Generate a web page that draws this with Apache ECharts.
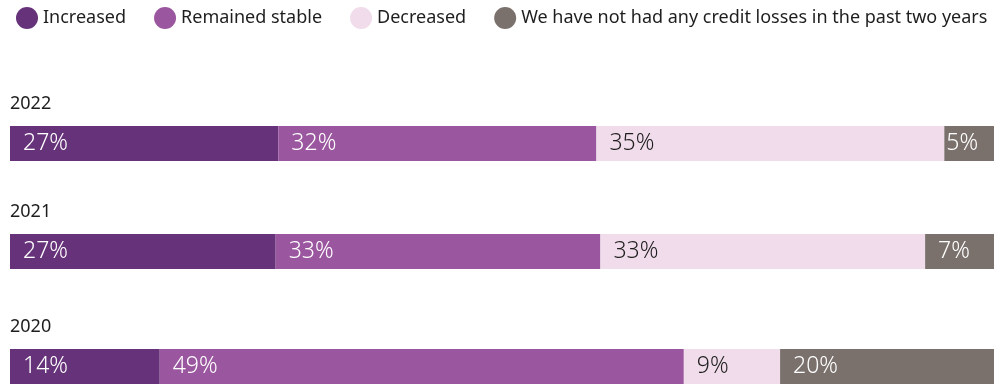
<!DOCTYPE html>
<html>
<head>
<meta charset="utf-8">
<script src="https://cdn.jsdelivr.net/npm/echarts@6/dist/echarts.min.js"></script>
<style>
  html, body { margin: 0; padding: 0; background: #fff; }
  #chart { width: 1004px; height: 385px; }
</style>
</head>
<body>
<div id="chart"></div>
<script>
// Survey answers per year (percent of respondents)
const years = ['2022', '2021', '2020'];
const seriesNames = ['Increased', 'Remained stable', 'Decreased', 'We have not had any credit losses in the past two years'];
const increased = [27, 27, 14];
const remainedStable = [32, 33, 49];
const decreased = [35, 33, 9];
const noLosses = [5, 7, 20];

const colors = ['#66337a', '#9a569e', '#f0dcea', '#7a716d'];
const labelColors = ['#ffffff', '#ffffff', '#1e1e1e', '#ffffff'];
const values = [increased, remainedStable, decreased, noLosses];

const FONT = '"Noto Sans", "Open Sans", sans-serif';
const barTops = [126, 234, 349];
const barHeight = 35;

const grids = [], xAxes = [], yAxes = [], titles = [], series = [];

years.forEach((year, row) => {
  // each year is its own bar scaled to that year's total so it spans the full width
  const total = values.reduce((s, arr) => s + arr[row], 0);
  grids.push({ left: 10, right: 10, top: barTops[row], height: barHeight, containLabel: false });
  xAxes.push({ gridIndex: row, type: 'value', min: 0, max: total, show: false });
  yAxes.push({ gridIndex: row, type: 'category', data: [year], show: false });
  titles.push({
    text: year, left: 5, top: barTops[row] - 36,
    textStyle: { fontFamily: FONT, fontSize: 18, fontWeight: 'normal', color: '#1e1e1e' }
  });
  seriesNames.forEach((name, k) => {
    const v = values[k][row];
    series.push({
      name, type: 'bar', stack: 'row' + row,
      xAxisIndex: row, yAxisIndex: row,
      barWidth: '100%', barCategoryGap: 0,
      itemStyle: { color: colors[k] },
      label: {
        show: true, position: 'insideLeft',
        distance: v < 6 ? 2 : 13,
        formatter: '{c}%',
        color: labelColors[k], fontFamily: FONT, fontSize: 23, fontWeight: 300
      },
      emphasis: { disabled: true },
      data: [v]
    });
  });
});

const chart = echarts.init(document.getElementById('chart'), null, { renderer: 'canvas' });
chart.setOption({
  animation: false,
  title: titles,
  legend: {
    data: seriesNames,
    left: 11, top: 2,
    icon: 'circle', itemWidth: 22, itemHeight: 22, itemGap: 28,
    textStyle: { fontFamily: FONT, fontSize: 18, color: '#1e1e1e' }
  },
  grid: grids,
  xAxis: xAxes,
  yAxis: yAxes,
  series
});
</script>
</body>
</html>
